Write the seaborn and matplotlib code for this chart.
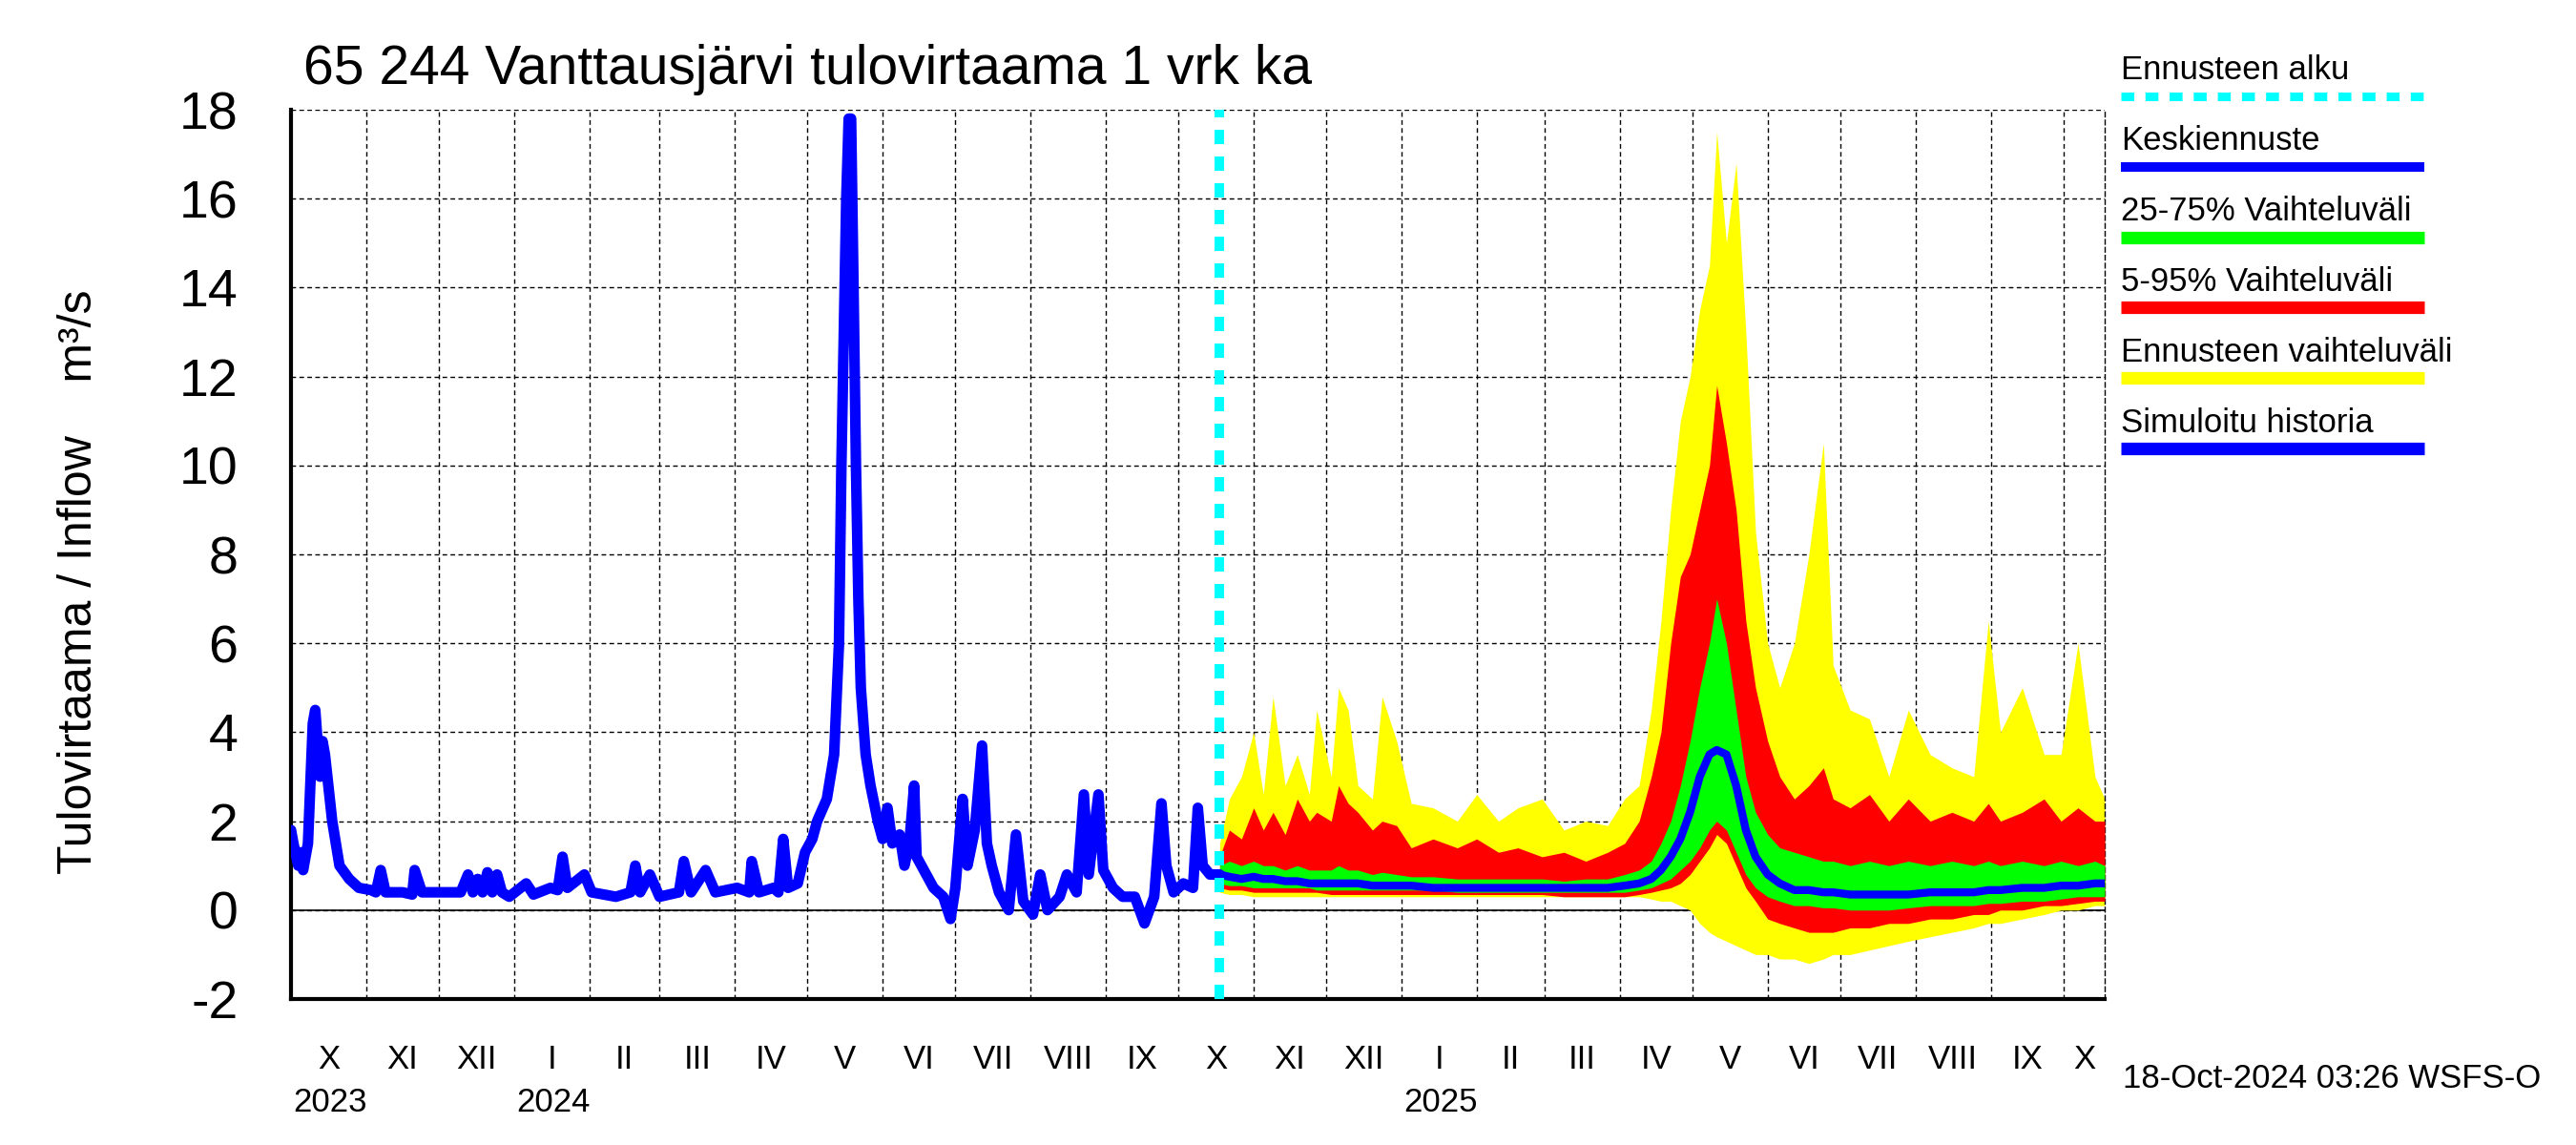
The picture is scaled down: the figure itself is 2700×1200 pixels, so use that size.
import matplotlib
matplotlib.use('Agg')
import matplotlib.pyplot as plt
import matplotlib.dates as mdates
from matplotlib.lines import Line2D
import seaborn as sns
import pandas as pd

# simulated history: day offsets from hist_start and flow (m3/s)
hist_start = '2023-10-01'
hist_day = [0, 1, 3, 4, 5, 7, 9, 10, 12, 13, 14, 17, 20, 24, 28, 33, 35, 37, 39, 46, 50, 51, 54,
            60, 70, 73, 75, 77, 79, 81, 83, 85, 87, 90, 97, 100, 107, 110, 112, 114, 121, 124,
            134, 140, 142, 144, 148, 152, 160, 162, 165, 171, 175, 184, 189, 190, 193, 199, 201,
            203, 205, 209, 212, 215, 217, 221, 224, 226, 227, 228, 229, 230, 231, 232, 233, 234,
            235, 237, 239, 242, 244, 246, 248, 251, 253, 255, 257, 258, 262, 265, 269, 272, 274,
            277, 279, 282, 285, 287, 289, 292, 296, 299, 302, 306, 309, 312, 317, 320, 324, 327,
            329, 333, 335, 339, 343, 348, 352, 356, 359, 361, 364, 368, 372, 374, 376, 379, 383]
hist_flow = [1.8, 1.5, 1.0, 1.3, 0.9, 1.5, 4.2, 4.5, 3.0, 3.8, 3.5, 2.0, 1.0, 0.7, 0.5, 0.45, 0.4,
             0.9, 0.4, 0.4, 0.35, 0.9, 0.4,
             0.4, 0.4, 0.8, 0.4, 0.7, 0.4, 0.85, 0.4, 0.8, 0.4, 0.3, 0.6, 0.35, 0.5, 0.45, 1.2,
             0.5, 0.8, 0.4,
             0.3, 0.4, 1.0, 0.4, 0.8, 0.3, 0.4, 1.1, 0.4, 0.9, 0.4, 0.5, 0.4, 1.1, 0.4, 0.5, 0.4,
             1.6, 0.5, 0.6, 1.3, 1.6, 2.0, 2.5, 3.5, 6.0, 10.0, 13.0, 16.0, 17.8, 17.8, 14.0,
             10.0, 7.0,
             5.0, 3.5, 2.8, 2.0, 1.6, 2.3, 1.5, 1.7, 1.0, 1.5, 2.8, 1.2, 0.8, 0.5, 0.3, -0.2, 0.5,
             2.5, 1.0, 1.8, 3.7, 1.5, 1.0, 0.4, 0.0, 1.7, 0.2, -0.1, 0.8, 0.0, 0.3, 0.8, 0.4, 2.6,
             0.8, 2.6, 0.9, 0.5, 0.3, 0.3, -0.3, 0.3, 2.4, 1.0, 0.4, 0.6, 0.5, 2.3, 1.0, 0.8, 0.8]

# forecast ensemble statistics
fc_dates = ['2024-10-18', '2024-10-22', '2024-10-27', '2024-11-01', '2024-11-05', '2024-11-09',
            '2024-11-14', '2024-11-19', '2024-11-24', '2024-11-27', '2024-12-03', '2024-12-06',
            '2024-12-10', '2024-12-14', '2024-12-20', '2024-12-24', '2024-12-30', '2025-01-05',
            '2025-01-14', '2025-01-24', '2025-02-01', '2025-02-10', '2025-02-18', '2025-02-28',
            '2025-03-09', '2025-03-18', '2025-03-27', '2025-04-03', '2025-04-09', '2025-04-14',
            '2025-04-18', '2025-04-22', '2025-04-26', '2025-04-30', '2025-05-04', '2025-05-08',
            '2025-05-11', '2025-05-15', '2025-05-19', '2025-05-23', '2025-05-27', '2025-06-01',
            '2025-06-06', '2025-06-12', '2025-06-18', '2025-06-24', '2025-06-28', '2025-07-05',
            '2025-07-13', '2025-07-21', '2025-07-29', '2025-08-07', '2025-08-16', '2025-08-25',
            '2025-08-31', '2025-09-05', '2025-09-14', '2025-09-23', '2025-09-30', '2025-10-07',
            '2025-10-14', '2025-10-18']
fc_min = [0.4, 0.35, 0.35, 0.3, 0.3, 0.3, 0.3, 0.3, 0.3, 0.3,
          0.3, 0.3, 0.3, 0.3, 0.3, 0.3, 0.3,
          0.3, 0.3, 0.3,
          0.3, 0.3, 0.3, 0.3,
          0.3, 0.3, 0.3,
          0.3, 0.3, 0.25, 0.2, 0.2, 0.1, 0.0,
          -0.3, -0.5, -0.6, -0.7, -0.8, -0.9, -1.0,
          -1.0, -1.1, -1.1, -1.2, -1.1, -1.0,
          -1.0, -0.9, -0.8, -0.7,
          -0.6, -0.5, -0.4, -0.3,
          -0.3, -0.2, -0.1, 0.0,
          0.0, 0.1, 0.1]
fc_p05 = [0.5, 0.45, 0.45, 0.4, 0.4, 0.4, 0.4, 0.4, 0.4, 0.4,
          0.35, 0.35, 0.35, 0.35, 0.35, 0.35, 0.35,
          0.35, 0.35, 0.35,
          0.35, 0.35, 0.35, 0.35,
          0.3, 0.3, 0.3,
          0.3, 0.35, 0.4, 0.45, 0.5, 0.6, 0.8,
          1.1, 1.4, 1.7, 1.5, 1.0, 0.5, 0.2,
          -0.2, -0.3, -0.4, -0.5, -0.5, -0.5,
          -0.4, -0.4, -0.3, -0.3,
          -0.2, -0.2, -0.1, -0.1,
          0.0, 0.0, 0.1, 0.1,
          0.15, 0.2, 0.2]
fc_p25 = [0.6, 0.55, 0.55, 0.5, 0.5, 0.5, 0.5, 0.5, 0.5, 0.45,
          0.45, 0.45, 0.45, 0.45, 0.45, 0.45, 0.45,
          0.45, 0.45, 0.4,
          0.4, 0.4, 0.4, 0.4,
          0.4, 0.4, 0.4,
          0.4, 0.45, 0.5, 0.6, 0.7, 0.9, 1.1,
          1.4, 1.8, 2.0, 1.8, 1.3, 0.8, 0.5,
          0.3, 0.2, 0.1, 0.1, 0.05, 0.05,
          0.0, 0.0, 0.0, 0.05,
          0.1, 0.1, 0.1, 0.15,
          0.15, 0.2, 0.2, 0.25,
          0.3, 0.3, 0.3]
fc_med = [0.8, 0.75, 0.7, 0.75, 0.7, 0.7, 0.65, 0.65, 0.6, 0.6,
          0.6, 0.6, 0.6, 0.6, 0.55, 0.55, 0.55,
          0.55, 0.5, 0.5,
          0.5, 0.5, 0.5, 0.5,
          0.5, 0.5, 0.5,
          0.55, 0.6, 0.7, 0.9, 1.2, 1.6, 2.2,
          3.0, 3.5, 3.6, 3.5, 2.8, 1.8, 1.2,
          0.8, 0.6, 0.45, 0.45, 0.4, 0.4,
          0.35, 0.35, 0.35, 0.35,
          0.4, 0.4, 0.4, 0.45,
          0.45, 0.5, 0.5, 0.55,
          0.55, 0.6, 0.6]
fc_p75 = [1.0, 1.1, 1.0, 1.1, 1.0, 1.0, 0.9, 1.0, 0.9, 0.9,
          0.9, 1.0, 0.9, 0.9, 0.8, 0.85, 0.8,
          0.75, 0.75, 0.7,
          0.7, 0.7, 0.7, 0.7,
          0.65, 0.7, 0.7,
          0.8, 0.9, 1.1, 1.5, 2.0, 2.8, 3.8,
          5.0, 6.0, 7.0, 6.0, 4.5, 3.0, 2.2,
          1.7, 1.4, 1.3, 1.2, 1.1, 1.1,
          1.0, 1.1, 1.0, 1.1,
          1.0, 1.1, 1.0, 1.1,
          1.0, 1.1, 1.0, 1.1,
          1.0, 1.1, 1.0]
fc_p95 = [1.2, 1.8, 1.6, 2.3, 1.8, 2.2, 1.7, 2.5, 2.0, 2.2,
          2.0, 2.8, 2.4, 2.2, 1.8, 2.0, 1.9,
          1.4, 1.6, 1.4,
          1.6, 1.3, 1.4, 1.2,
          1.3, 1.1, 1.3,
          1.5, 2.0, 3.0, 4.0, 6.0, 7.5, 8.0,
          9.0, 10.0, 11.8, 10.5, 9.0, 6.5, 5.0,
          3.8, 3.0, 2.5, 2.8, 3.2, 2.5,
          2.3, 2.6, 2.0, 2.5,
          2.0, 2.2, 2.0, 2.4,
          2.0, 2.2, 2.5, 2.0,
          2.3, 2.0, 2.0]
fc_max = [1.5, 2.5, 3.0, 4.0, 2.6, 4.8, 2.8, 3.5, 2.6, 4.5,
          3.0, 5.0, 4.5, 2.8, 2.5, 4.8, 3.8,
          2.4, 2.3, 2.0,
          2.6, 2.0, 2.3, 2.5,
          1.8, 2.0, 1.9,
          2.5, 2.8, 4.5, 6.5, 9.0, 11.0, 12.0,
          13.5, 14.5, 17.5, 15.0, 16.8, 13.0, 8.5,
          6.0, 5.0, 6.0, 8.0, 10.5, 5.5,
          4.5, 4.3, 3.0, 4.5,
          3.5, 3.2, 3.0, 6.5,
          4.0, 5.0, 3.5, 3.5,
          6.0, 3.0, 2.5]

forecast_start = '2024-10-18'
x_start, x_end = '2023-10-01', '2025-10-18'
y_ticks = list(range(-2, 19, 2))
roman = ['I', 'II', 'III', 'IV', 'V', 'VI', 'VII', 'VIII', 'IX', 'X', 'XI', 'XII']

legend_labels = ['Ennusteen alku', 'Keskiennuste', '25-75% Vaihteluväli',
                 '5-95% Vaihteluväli', 'Ennusteen vaihteluväli', 'Simuloitu historia']
legend_colors = ['#00ffff', '#0000ff', '#00ff00', '#ff0000', '#ffff00', '#0000ff']

BLUE, CYAN = '#0000ff', '#00ffff'

sns.set_style('white')
plt.rcParams['font.family'] = ['Liberation Sans', 'DejaVu Sans']
plt.rcParams['text.color'] = 'black'
plt.rcParams['xtick.color'] = 'black'
plt.rcParams['ytick.color'] = 'black'
plt.rcParams['axes.unicode_minus'] = False

W, H = 2700, 1200
fig = plt.figure(figsize=(27, 12), dpi=100)
L, R, T, B = 305, 2206, 115, 1047
ax = fig.add_axes([L / W, 1 - B / H, (R - L) / W, (B - T) / H])

hist_dt = pd.Timestamp(hist_start) + pd.to_timedelta(hist_day, unit='D')
fc_dt = pd.to_datetime(fc_dates)

ax.axhline(0, color='black', lw=1.2, zorder=1)
ax.fill_between(fc_dt, fc_min, fc_max, color='#ffff00', lw=0, zorder=2)
ax.fill_between(fc_dt, fc_p05, fc_p95, color='#ff0000', lw=0, zorder=3)
ax.fill_between(fc_dt, fc_p25, fc_p75, color='#00ff00', lw=0, zorder=4)
sns.lineplot(x=fc_dt, y=fc_med, color=BLUE, lw=6, ax=ax, zorder=5)
sns.lineplot(x=hist_dt, y=hist_flow, color=BLUE, lw=8, ax=ax, zorder=5)
ax.axvline(pd.Timestamp(forecast_start), color=CYAN, lw=7.2, dashes=(1.5, 1.3), zorder=6)

x0, x1 = pd.Timestamp(x_start), pd.Timestamp(x_end)
ax.set_xlim(x0, x1)
ax.set_ylim(-2, 18)
ax.set_yticks(y_ticks)
ax.set_xlabel('')
ax.set_ylabel('')

month_starts = pd.date_range(x_start, x_end, freq='MS')
year_starts = [m for m in month_starts if m.month == 1]
ax.xaxis.set_major_locator(mdates.YearLocator())
ax.xaxis.set_minor_locator(mdates.MonthLocator())
ax.xaxis.set_major_formatter(plt.NullFormatter())
ax.tick_params(axis='x', which='major', direction='out', length=50, width=2.8, color='black')
ax.tick_params(axis='x', which='minor', direction='out', length=50, width=1.0, color='black')
ax.tick_params(axis='y', direction='in', length=32, width=2.8, color='black',
               labelsize=40, pad=40)

grid_ls = (0, (3.5, 2.5))
ax.grid(True, which='major', axis='y', color='black', lw=1.0, linestyle=grid_ls)
ax.grid(True, which='both', axis='x', color='black', lw=1.0, linestyle=grid_ls)
ax.set_axisbelow(True)

for s in ['left', 'bottom']:
    ax.spines[s].set_linewidth(3)
    ax.spines[s].set_color('black')
ax.spines['top'].set_visible(False)
ax.spines['right'].set_linestyle(grid_ls)
ax.spines['right'].set_linewidth(1.0)
ax.spines['right'].set_color('black')

# month and year labels
xt = ax.get_xaxis_transform()
edges = list(month_starts) + [x1]
for a, b in zip(edges[:-1], edges[1:]):
    a = max(a, x0)
    ax.text(a + (b - a) / 2, -(1120 - B) / (B - T), roman[a.month - 1], transform=xt,
            ha='center', va='baseline', fontsize=25)
for y in [x0] + year_starts:
    ax.text(y + pd.Timedelta(days=1), -(1165 - B) / (B - T), str(y.year), transform=xt,
            ha='left', va='baseline', fontsize=25)

fig.text(318 / W, 1 - 88 / H, '65 244 Vanttausjärvi tulovirtaama 1 vrk ka',
         fontsize=41, ha='left', va='baseline')
fig.text(83 / W, 1 - 610 / H, 'Tulovirtaama / Inflow    m³/s', rotation=90,
         fontsize=36, ha='center', va='center')
fig.text(2225 / W, 1 - 1140 / H, '18-Oct-2024 03:26 WSFS-O', fontsize=25,
         ha='left', va='baseline')

# legend at the right
text_base = [83, 157, 231, 305, 379, 453]
line_y = [101, 175, 249, 322, 396, 470]
line_w = [6.5, 7.2, 9.5, 9.5, 9.5, 9.5]
for lab, col, tb, ly, lw in zip(legend_labels, legend_colors, text_base, line_y, line_w):
    fig.text(2223 / W, 1 - tb / H, lab, fontsize=25, ha='left', va='baseline')
    kw = dict(dashes=(1.5, 1.3)) if lab == 'Ennusteen alku' else {}
    fig.add_artist(Line2D([2223 / W, 2541 / W], [1 - ly / H, 1 - ly / H], color=col,
                          lw=lw, solid_capstyle='butt', transform=fig.transFigure, **kw))

fig.savefig('out.png', dpi=100)
